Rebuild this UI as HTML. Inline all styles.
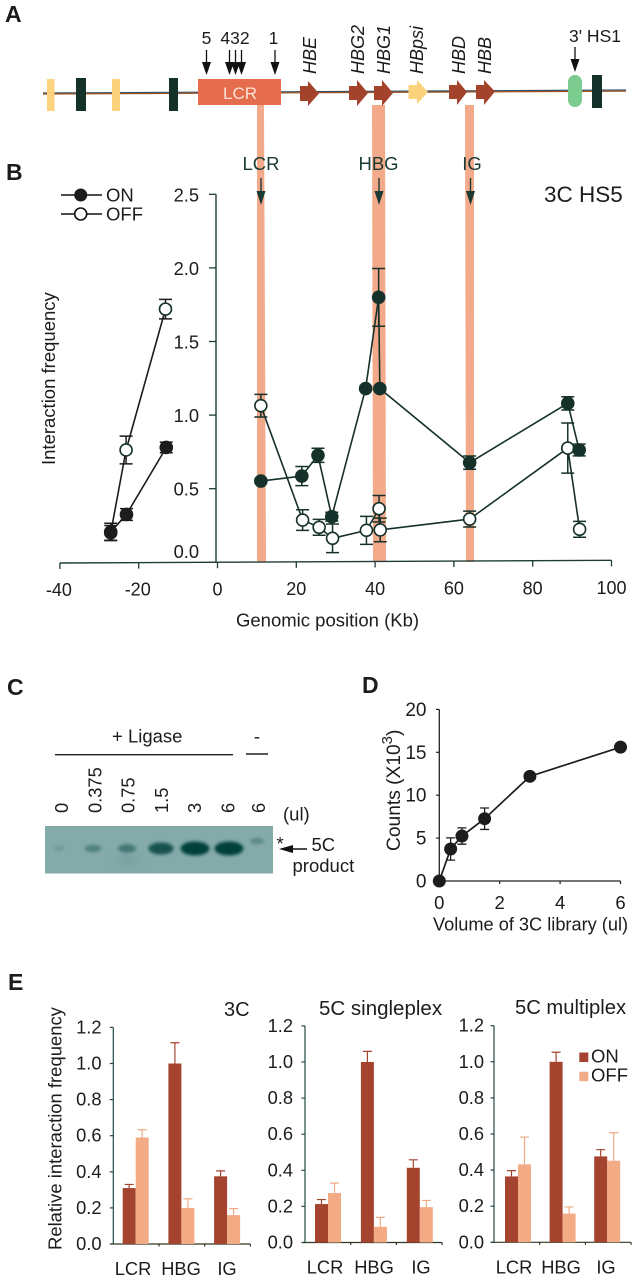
<!DOCTYPE html>
<html lang="en">
<head>
<meta charset="utf-8">
<title>3C and 5C interaction figure</title>
<style>
html,body{margin:0;padding:0;background:#fff;width:635px;height:1280px;overflow:hidden}
svg{display:block}
text{font-family:"Liberation Sans",sans-serif;fill:#1c1c1c}
</style>
</head>
<body>
<svg id="fig" xmlns="http://www.w3.org/2000/svg" width="635" height="1280" viewBox="0 0 635 1280">
<defs>
<filter id="blur3" x="-50%" y="-100%" width="200%" height="300%"><feGaussianBlur stdDeviation="1.6"/></filter>
<filter id="blur6" x="-50%" y="-100%" width="200%" height="300%"><feGaussianBlur stdDeviation="5"/></filter>
</defs>

<g font-weight="bold" font-size="23">
<text x="5" y="22">A</text>
<text x="6" y="180">B</text>
<text x="7" y="695">C</text>
<text x="362" y="693">D</text>
<text x="8" y="990">E</text>
</g>

<g fill="#f3aa8a">
<polygon points="257,105 264,105 266,562 257,562"/>
<polygon points="372,105 385,105 386,562 373,562"/>
<polygon points="465,105 474,105 474,562 466,562"/>
</g>

<g>
<line x1="43" y1="93" x2="626" y2="90" stroke="#31506a" stroke-width="1.2"/>
<line x1="43" y1="94" x2="626" y2="91.2" stroke="#a0521c" stroke-width="1.2"/>
<rect x="47" y="79" width="7.5" height="32" fill="#fdd27c"/>
<rect x="76" y="78" width="10" height="33" fill="#14322a"/>
<rect x="112" y="79" width="8" height="32" fill="#fdd27c"/>
<rect x="169" y="78" width="9" height="33" fill="#14322a"/>
<rect x="198" y="79" width="83" height="26" fill="#e56c4c"/>
<text x="240" y="99" font-size="17" text-anchor="middle" style="fill:#fbe3d8">LCR</text>
<polygon points="300,86 308,86 308,81 319,93.5 308,106 308,101 300,101" fill="#a3432b"/>
<polygon points="349,86 357,86 357,80 368,93 357,106 357,100 349,100" fill="#a3432b"/>
<polygon points="374,86 382,86 382,80 393,93 382,106 382,100 374,100" fill="#a3432b"/>
<polygon points="408.5,85 417,85 417,80 428,92 417,104 417,99 408.5,99" fill="#fdd27c"/>
<polygon points="449,85 457,85 457,80 467,92 457,105 457,99 449,99" fill="#a3432b"/>
<polygon points="476,85 484,85 484,80 495,91.5 484,105 484,99 476,99" fill="#a3432b"/>
<rect x="568" y="75" width="14" height="32" rx="7" fill="#7ccb8f"/>
<rect x="592" y="75" width="10" height="33" fill="#14322a"/>
<g font-size="17.5">
<text x="206.5" y="44" text-anchor="middle">5</text>
<text x="235" y="44" text-anchor="middle">432</text>
<text x="273.5" y="44" text-anchor="middle">1</text>
<text x="595" y="42" text-anchor="middle">3' HS1</text>
</g>
<g stroke="#111" stroke-width="1.3" fill="#111">
<line x1="206.5" y1="50" x2="206.5" y2="66"/><polygon stroke="none" points="202,62 211,62 206.5,75"/>
<line x1="229.5" y1="50" x2="229.5" y2="66"/><polygon stroke="none" points="225,62 234,62 229.5,75"/>
<line x1="235.5" y1="50" x2="235.5" y2="66"/><polygon stroke="none" points="231,62 240,62 235.5,75"/>
<line x1="241.5" y1="50" x2="241.5" y2="66"/><polygon stroke="none" points="237,62 246,62 241.5,75"/>
<line x1="275" y1="50" x2="275" y2="66"/><polygon stroke="none" points="270.5,62 279.5,62 275,75"/>
<line x1="575" y1="47" x2="575" y2="63"/><polygon stroke="none" points="570.5,59 579.5,59 575,72"/>
</g>
<g font-size="18" font-style="italic">
<text transform="translate(316,74) rotate(-90)">HBE</text>
<text transform="translate(364,74) rotate(-90)">HBG2</text>
<text transform="translate(390,74) rotate(-90)">HBG1</text>
<text transform="translate(423,74) rotate(-90)">HBpsi</text>
<text transform="translate(465,74) rotate(-90)">HBD</text>
<text transform="translate(491,74) rotate(-90)">HBB</text>
</g>
</g>

<g>
<text x="261" y="170" font-size="18.5" text-anchor="middle" style="fill:#1b3a34">LCR</text>
<text x="378.5" y="170" font-size="18.5" text-anchor="middle" style="fill:#1b3a34">HBG</text>
<text x="472" y="170" font-size="18.5" text-anchor="middle" style="fill:#1b3a34">IG</text>
<g stroke="#1b3a34" stroke-width="1.4" fill="#1b3a34">
<line x1="261" y1="178" x2="261" y2="195"/><polygon stroke="none" points="256.5,191 265.5,191 261,205"/>
<line x1="379" y1="178" x2="379" y2="195"/><polygon stroke="none" points="374.5,191 383.5,191 379,205"/>
<line x1="470.5" y1="178" x2="470.5" y2="195"/><polygon stroke="none" points="466,191 475,191 470.5,205"/>
</g>
<text x="544" y="202" font-size="22.5">3C HS5</text>
<g>
<line x1="61" y1="195" x2="102" y2="195" stroke="#111" stroke-width="1.4"/>
<circle cx="80.7" cy="195" r="6.5" fill="#1c1c1c"/>
<text x="106" y="201.5" font-size="18.5">ON</text>
<line x1="61" y1="214" x2="102" y2="214" stroke="#111" stroke-width="1.4"/>
<circle cx="80.7" cy="214" r="6" fill="#fff" stroke="#111" stroke-width="1.6"/>
<text x="106" y="220.5" font-size="18.5">OFF</text>
</g>
<text transform="translate(55,465) rotate(-90)" font-size="18.5">Interaction frequency</text>
<text x="236" y="626.5" font-size="18.5">Genomic position (Kb)</text>
</g>
<g id="plotB"></g>

<g>
<text x="112" y="742.5" font-size="18.5">+ Ligase</text>
<text x="257" y="742.5" font-size="18.5" text-anchor="middle">-</text>
<line x1="55" y1="754.7" x2="233" y2="754.7" stroke="#222" stroke-width="1.4"/>
<line x1="246" y1="754" x2="268" y2="754" stroke="#222" stroke-width="1.4"/>
<text x="283" y="820.5" font-size="18.5">(ul)</text>
<rect x="45" y="826" width="228" height="47.5" fill="#84abaa"/>
<g id="gelBands"></g>
<text x="276.5" y="850" font-size="18.5">*</text>
<line x1="285" y1="849" x2="307" y2="849" stroke="#111" stroke-width="1.5"/>
<polygon points="279,849 293,845 293,853" fill="#111"/>
<text x="311.5" y="851" font-size="18.5">5C</text>
<text x="292.5" y="872" font-size="18.5">product</text>
</g>

<g>
<text x="433" y="930.5" font-size="18.2">Volume of 3C library (ul)</text>
<text transform="translate(400,851) rotate(-90)" font-size="19.2">Counts (X10<tspan font-size="15" dy="-8">3</tspan><tspan dy="8">)</tspan></text>
</g>
<g id="plotD"></g>

<g>
<text transform="translate(61.5,1250) rotate(-90)" font-size="18.45">Relative interaction frequency</text>
<text x="224" y="1016" font-size="20">3C</text>
<text x="319" y="1015" font-size="20.5">5C singleplex</text>
<text x="515" y="1014" font-size="20.2">5C multiplex</text>
<rect x="579.3" y="1052.5" width="9" height="9.5" fill="#a5442e"/>
<text x="591" y="1062.5" font-size="18.5">ON</text>
<rect x="579.3" y="1071.7" width="9" height="9.5" fill="#f2ab85"/>
<text x="591" y="1081.5" font-size="18.5">OFF</text>
</g>
<g id="plotE"></g>

<g id="gelLabels"></g>
</svg>

<script>
// Panel B data (genomic position in Kb, interaction frequency, error)
const bOnPos  = [-27.1, -23.1, -13, 11, 21.4, 25.5, 29, 37.6, 40.9, 41.2, 64, 88.9, 91.8];
const bOnFreq = [0.206, 0.325, 0.78, 0.552, 0.586, 0.727, 0.31, 1.18, 1.80, 1.18, 0.677, 1.08, 0.763];
const bOnErr  = [0.059, 0.04, 0.036, 0.012, 0.065, 0.048, 0.03, 0.012, 0.196, 0.012, 0.045, 0.045, 0.04];
const bOffPos  = [-27.1, -23.2, -13.2, 11, 21.6, 25.8, 29.2, 37.8, 41, 41.3, 64, 88.9, 91.9];
const bOffFreq = [0.2, 0.763, 1.72, 1.064, 0.287, 0.238, 0.163, 0.217, 0.364, 0.22, 0.294, 0.776, 0.224];
const bOffErr  = [0.05, 0.094, 0.066, 0.077, 0.07, 0.054, 0.097, 0.095, 0.09, 0.08, 0.054, 0.17, 0.054];
const bXTicks = [-40, -20, 0, 20, 40, 60, 80, 100];
const bYTicks = [0, 0.5, 1, 1.5, 2, 2.5];

// Panel C data (lane labels and band intensity)
const gelLanes = ['0', '0.375', '0.75', '1.5', '3', '6', '6'];
const gelIntensity = [0.05, 0.32, 0.42, 0.8, 1.0, 1.0, 0.22];

// Panel D data
const dVolume = [0, 0.375, 0.75, 1.5, 3, 6];
const dCounts = [0, 3.73, 5.24, 7.26, 12.2, 15.6];
const dErr    = [0, 1.3, 0.95, 1.25, 0, 0];
const dXTicks = [0, 2, 4, 6];
const dYTicks = [0, 5, 10, 15, 20];

// Panel E data
const eCategories = ['LCR', 'HBG', 'IG'];
const eTicks = [0, 0.2, 0.4, 0.6, 0.8, 1.0, 1.2];
const on3C  = [0.31, 1.0, 0.375];
const off3C = [0.59, 0.2, 0.16];
const onErr3C  = [0.02, 0.115, 0.03];
const offErr3C = [0.043, 0.05, 0.036];
const onSingle  = [0.213, 1.0, 0.414];
const offSingle = [0.274, 0.087, 0.196];
const onErrSingle  = [0.025, 0.059, 0.044];
const offErrSingle = [0.055, 0.052, 0.037];
const onMulti  = [0.365, 1.0, 0.476];
const offMulti = [0.432, 0.159, 0.452];
const onErrMulti  = [0.032, 0.053, 0.037];
const offErrMulti = [0.151, 0.037, 0.155];

const NS = 'http://www.w3.org/2000/svg';
function make(tag, attrs, parent) {
  const e = document.createElementNS(NS, tag);
  for (const k in attrs) e.setAttribute(k, attrs[k]);
  parent.appendChild(e);
  return e;
}

/* ---------- Panel B ---------- */
const plotB = document.getElementById('plotB');
const xB = k => 217.5 + 3.94 * k;
const yB = v => 562.3 - 147.2 * v;
const AXIS = '#1f3d38';

const bYAxis = make('line', {x1: 216, y1: yB(2.5), x2: 216, y2: 562.5, stroke: AXIS, 'stroke-width': 1.4}, plotB);


const bXAxis = make('line', {x1: xB(-40), y1: 563, x2: xB(100), y2: 560.3, stroke: AXIS, 'stroke-width': 1.4}, plotB);



bYTicks.forEach(v => {
  const t = make('line', {x1: 209, x2: 216, y1: yB(v), y2: yB(v), stroke: AXIS, 'stroke-width': 1.3}, plotB);
  
  
  const l = make('text', {x: 199, y: Math.min(yB(v) + 7, 558), 'text-anchor': 'end', 'font-size': 18.3}, plotB);
  l.textContent = v.toFixed(1);
  
  
});
bXTicks.forEach(k => {
  const yT = 563 - (k + 40) / 140 * 2.7;
  const t = make('line', {x1: xB(k), x2: xB(k), y1: yT, y2: yT + 6, stroke: AXIS, 'stroke-width': 1.3}, plotB);
  
  
  const l = make('text', {x: xB(k) - (k < 0 ? 1 : 0), y: 596 - (k + 40) / 140 * 2, 'text-anchor': 'middle', 'font-size': 18}, plotB);
  l.textContent = String(k);
  
  
});

function drawSeriesB(pos, freq, err, kind) {
  const dark = k => (k < 0 ? '#1c1c1c' : '#15312a');
  for (let i = 0; i + 1 < pos.length; i++) {
    if (pos[i] < 0 && pos[i + 1] > 0) continue;
    const seg = make('line', {x1: xB(pos[i]), y1: yB(freq[i]), x2: xB(pos[i + 1]), y2: yB(freq[i + 1]), stroke: dark(pos[i]), 'stroke-width': 1.6}, plotB);
    
    
  }
  pos.forEach((k, i) => {
    const cx = xB(k), top = yB(freq[i] + err[i]), bot = yB(freq[i] - err[i]);
    const eb = make('path', {d: `M${cx - 6.5} ${top}H${cx + 6.5}M${cx} ${top}V${bot}M${cx - 6.5} ${bot}H${cx + 6.5}`, stroke: dark(k), 'stroke-width': 1.5, fill: 'none'}, plotB);
    
    
  });
  pos.forEach((k, i) => {
    const attrs = kind === 'on'
      ? {cx: xB(k), cy: yB(freq[i]), r: 6.8, fill: dark(k)}
      : {cx: xB(k), cy: yB(freq[i]), r: 6, fill: '#fff', stroke: '#15312a', 'stroke-width': 1.6};
    const p = make('circle', attrs, plotB);
    
    
  });
}
drawSeriesB(bOffPos, bOffFreq, bOffErr, 'off');
drawSeriesB(bOnPos, bOnFreq, bOnErr, 'on');

/* ---------- Panel C ---------- */
const gelBands = document.getElementById('gelBands');
const gelLabels = document.getElementById('gelLabels');
const laneX = i => (i < 6 ? 59 + 34 * i : 257);
const laneLabelX = i => (i < 6 ? 68 + 33.3 * i : 265);
gelLanes.forEach((lab, i) => {
  const s = gelIntensity[i];
  const band = make('ellipse', {cx: laneX(i), cy: i === 6 ? 841 : 848.5, rx: 5 + 9.5 * s, ry: 2.2 + 4.8 * s, fill: '#06403e', opacity: 0.12 + 0.88 * s, filter: 'url(#blur3)'}, gelBands);
  
  
  const t = make('text', {transform: `translate(${laneLabelX(i)},813) rotate(-90)`, 'font-size': 18.3}, gelLabels);
  t.textContent = lab;
  
  
});
const gelSmear = make('ellipse', {cx: 128, cy: 861, rx: 12, ry: 4, fill: '#5f8f90', opacity: 0.5, filter: 'url(#blur6)'}, gelBands);



/* ---------- Panel D ---------- */
const plotD = document.getElementById('plotD');
const xD = v => 439.3 + 30.2 * v;
const yD = v => 881 - 8.58 * v;
const dAxisY = make('line', {x1: 439.3, x2: 439.3, y1: yD(20), y2: 881, stroke: '#222', 'stroke-width': 1.3}, plotD);


const dAxisX = make('line', {x1: 439.3, x2: xD(6), y1: 881, y2: 881, stroke: '#222', 'stroke-width': 1.3}, plotD);


dYTicks.forEach(v => {
  const t = make('line', {x1: 436, x2: 439.3, y1: yD(v), y2: yD(v), stroke: '#222', 'stroke-width': 1.2}, plotD);
  
  
  const l = make('text', {x: 426.5, y: yD(v) + 6.5, 'text-anchor': 'end', 'font-size': 19}, plotD);
  l.textContent = String(v);
  
  
});
dXTicks.forEach(v => {
  const t = make('line', {x1: xD(v), x2: xD(v), y1: 881, y2: 884, stroke: '#222', 'stroke-width': 1.2}, plotD);
  
  
  const l = make('text', {x: xD(v), y: 909, 'text-anchor': 'middle', 'font-size': 18.5}, plotD);
  l.textContent = String(v);
  
  
});
const dLine = make('polyline', {points: dVolume.map((v, i) => xD(v) + ',' + yD(dCounts[i])).join(' '), fill: 'none', stroke: '#1c1c1c', 'stroke-width': 1.7}, plotD);


dVolume.forEach((v, i) => {
  if (dErr[i] > 0) {
    const cx = xD(v), top = yD(dCounts[i] + dErr[i]), bot = yD(dCounts[i] - dErr[i]);
    const eb = make('path', {d: `M${cx - 4.5} ${top}H${cx + 4.5}M${cx} ${top}V${bot}M${cx - 4.5} ${bot}H${cx + 4.5}`, stroke: '#1c1c1c', 'stroke-width': 1.3, fill: 'none'}, plotD);
    
    
  }
  const p = make('circle', {cx: xD(v), cy: yD(dCounts[i]), r: 6.5, fill: '#1c1c1c'}, plotD);
  
  
});

/* ---------- Panel E ---------- */
const plotE = document.getElementById('plotE');
const ON_COLOR = '#a5442e', OFF_COLOR = '#f2ab85', E_AXIS = '#234a48';
function barPanel(layout, on, off, onE, offE) {
  const y = v => layout.zero - 180.5 * v;
  const axisY = make('line', {x1: layout.x0, x2: layout.x0, y1: y(1.2), y2: layout.zero, stroke: E_AXIS, 'stroke-width': 1.2}, plotE);
  
  
  const axisX = make('line', {x1: layout.x0 - 3, x2: layout.x0 + 137, y1: layout.zero, y2: layout.zero, stroke: '#2c3a22', 'stroke-width': 1.2}, plotE);
  
  
  eTicks.forEach(v => {
    const t = make('line', {x1: layout.x0 - 3.5, x2: layout.x0, y1: y(v), y2: y(v), stroke: E_AXIS, 'stroke-width': 1.2}, plotE);
    
    
    const l = make('text', {x: layout.labelX, y: y(v) + 6, 'text-anchor': 'end', 'font-size': 18.3}, plotE);
    l.textContent = v.toFixed(1);
    
    
  });
  [1, 2, 3].forEach(i => {
    const t = make('line', {x1: layout.x0 + 45.7 * i, x2: layout.x0 + 45.7 * i, y1: layout.zero, y2: layout.zero + 2.5, stroke: '#222', 'stroke-width': 1.1}, plotE);
    
    
  });
  eCategories.forEach((c, i) => {
    const mid = layout.b0 + layout.step * i;
    const bOn = make('rect', {x: mid - 13, width: 13, y: y(on[i]), height: 180.5 * on[i], fill: ON_COLOR}, plotE);
    
    
    const bOff = make('rect', {x: mid, width: 13, y: y(off[i]), height: 180.5 * off[i], fill: OFF_COLOR}, plotE);
    
    
    const eOn = make('path', {d: `M${mid - 6.5} ${y(on[i])}V${y(on[i] + onE[i])}M${mid - 11} ${y(on[i] + onE[i])}H${mid - 2}`, stroke: ON_COLOR, 'stroke-width': 1.2, fill: 'none'}, plotE);
    
    
    const eOff = make('path', {d: `M${mid + 6.5} ${y(off[i])}V${y(off[i] + offE[i])}M${mid + 2} ${y(off[i] + offE[i])}H${mid + 11}`, stroke: OFF_COLOR, 'stroke-width': 1.2, fill: 'none'}, plotE);
    
    
    const l = make('text', {x: layout.catX + layout.catStep * i + (i === 2 ? -2 : 0), y: layout.zero + 31, 'text-anchor': 'middle', 'font-size': 18.3}, plotE);
    l.textContent = c;
    
    
  });
}
barPanel({x0: 113.3, zero: 1244, labelX: 101.5, b0: 135.7, step: 45.7, catX: 133, catStep: 48}, on3C, off3C, onErr3C, offErr3C);
barPanel({x0: 305, zero: 1242.5, labelX: 293, b0: 328, step: 45.9, catX: 325, catStep: 49}, onSingle, offSingle, onErrSingle, offErrSingle);
barPanel({x0: 494, zero: 1242.3, labelX: 484, b0: 518, step: 44.6, catX: 514, catStep: 47}, onMulti, offMulti, onErrMulti, offErrMulti);
</script>
</body>
</html>
